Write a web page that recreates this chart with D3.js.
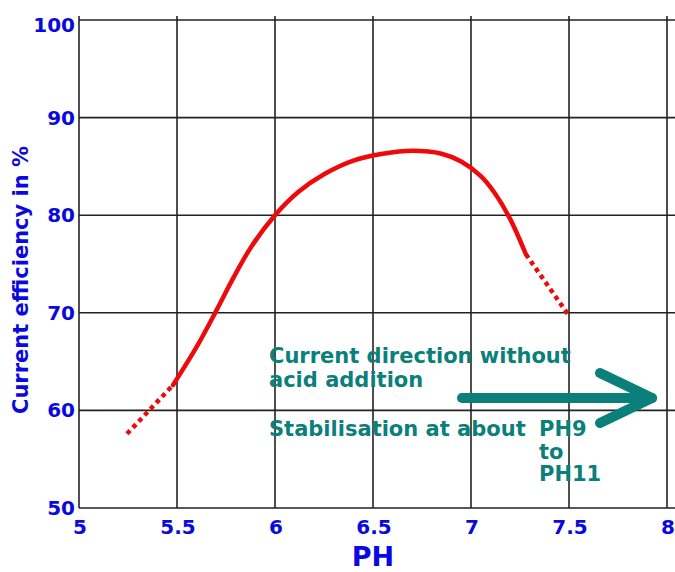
<!DOCTYPE html>
<html>
<head>
<meta charset="utf-8">
<script src="https://cdn.jsdelivr.net/npm/d3@7"></script>
<style>
  body { margin: 0; background: #fff; }
  svg { display: block; font-family: "DejaVu Sans", sans-serif; font-weight: bold; }
</style>
</head>
<body>
<div id="chart"></div>
<script>
// ---- data ----
const xTicks = [5, 5.5, 6, 6.5, 7, 7.5, 8];
const yTicks = [50, 60, 70, 80, 90, 100];

// solid (measured) part of the curve
const phMeasured = [5.48, 5.6, 5.7, 5.78, 5.88, 6.0, 6.12, 6.25, 6.4, 6.55, 6.7, 6.85, 6.95, 7.05, 7.12, 7.2, 7.28];
const effMeasured = [62.6, 66.5, 70.2, 73.3, 76.8, 80.0, 82.4, 84.2, 85.6, 86.3, 86.6, 86.3, 85.5, 84.0, 82.3, 79.6, 76.0];

// dotted (extrapolated) ends
const phLow = [5.245, 5.48];
const effLow = [57.6, 62.6];
const phHigh = [7.28, 7.5];
const effHigh = [76.0, 69.7];

const noteLines = ['Current direction without', 'acid addition'];
const stabText = 'Stabilisation at about';
const rangeLines = ['PH9', 'to', 'PH11'];

const W = 675, H = 572;
const margin = { top: 20, right: 8, bottom: 64, left: 79 };

const svg = d3.select('#chart').append('svg')
  .attr('width', W)
  .attr('height', H);

const x = d3.scaleLinear().domain([5, 8]).range([margin.left, W - margin.right]);
const y = d3.scaleLinear().domain([50, 100]).range([H - margin.bottom, margin.top]);

const blue = '#0a0ae0';
const teal = '#0b7f7a';
const red = '#ee0a0a';

// grid
svg.append('g')
  .selectAll('line')
  .data(xTicks)
  .join('line')
  .attr('x1', d => x(d)).attr('x2', d => x(d))
  .attr('y1', y(100) - 4).attr('y2', y(50))
  .attr('stroke', '#222').attr('stroke-width', 1.6);

svg.append('g')
  .selectAll('line')
  .data(yTicks)
  .join('line')
  .attr('x1', x(5)).attr('x2', W)
  .attr('y1', d => y(d)).attr('y2', d => y(d))
  .attr('stroke', '#222').attr('stroke-width', 1.6);

// tick labels
svg.append('g')
  .selectAll('text')
  .data(yTicks)
  .join('text')
  .attr('x', x(5) - 4)
  .attr('y', d => y(d) + (d === 100 ? 12 : 7))
  .attr('text-anchor', 'end')
  .attr('fill', blue)
  .style('font-size', '20px')
  .text(d => d);

svg.append('g')
  .selectAll('text')
  .data(xTicks)
  .join('text')
  .attr('x', d => x(d) + 1)
  .attr('y', y(50) + 26)
  .attr('text-anchor', 'middle')
  .attr('fill', blue)
  .style('font-size', '20px')
  .text(d => d);

// axis titles
svg.append('text')
  .attr('x', (x(5) + x(8)) / 2)
  .attr('y', 566)
  .attr('text-anchor', 'middle')
  .attr('fill', blue)
  .style('font-size', '27px')
  .text('PH');

svg.append('text')
  .attr('transform', `translate(28,280) rotate(-90)`)
  .attr('text-anchor', 'middle')
  .attr('fill', blue)
  .style('font-size', '21px')
  .text('Current efficiency in %');

// curve
const line = d3.line()
  .x(d => x(d[0]))
  .y(d => y(d[1]))
  .curve(d3.curveCatmullRom.alpha(0.5));

svg.append('path')
  .datum(d3.zip(phMeasured, effMeasured))
  .attr('d', line)
  .attr('fill', 'none')
  .attr('stroke', red)
  .attr('stroke-width', 4.5)
  .attr('stroke-linecap', 'round');

[[phLow, effLow], [phHigh, effHigh]].forEach(([px, py]) => {
  svg.append('path')
    .datum(d3.zip(px, py))
    .attr('d', d3.line().x(d => x(d[0])).y(d => y(d[1])))
    .attr('fill', 'none')
    .attr('stroke', red)
    .attr('stroke-width', 4.5)
    .attr('stroke-dasharray', '4.5,4');
});

// annotation
const note = svg.append('g').attr('fill', teal).style('font-size', '21px');
note.selectAll('text.n')
  .data(noteLines)
  .join('text')
  .attr('class', 'n')
  .attr('x', 269)
  .attr('y', (d, i) => 363 + i * 24)
  .text(d => d);

note.append('text')
  .attr('x', 269)
  .attr('y', 436)
  .text(stabText);

note.selectAll('text.r')
  .data(rangeLines)
  .join('text')
  .attr('class', 'r')
  .attr('x', 539)
  .attr('y', (d, i) => 436 + i * 22.5)
  .text(d => d);

// arrow
const arrow = svg.append('g')
  .attr('stroke', teal)
  .attr('stroke-width', 10)
  .attr('stroke-linecap', 'round')
  .attr('stroke-linejoin', 'round')
  .attr('fill', 'none');

arrow.append('line')
  .attr('x1', 462).attr('y1', 398)
  .attr('x2', 652).attr('y2', 398);
arrow.append('polyline')
  .attr('points', '600,373 652,398 600,423');
</script>
</body>
</html>
